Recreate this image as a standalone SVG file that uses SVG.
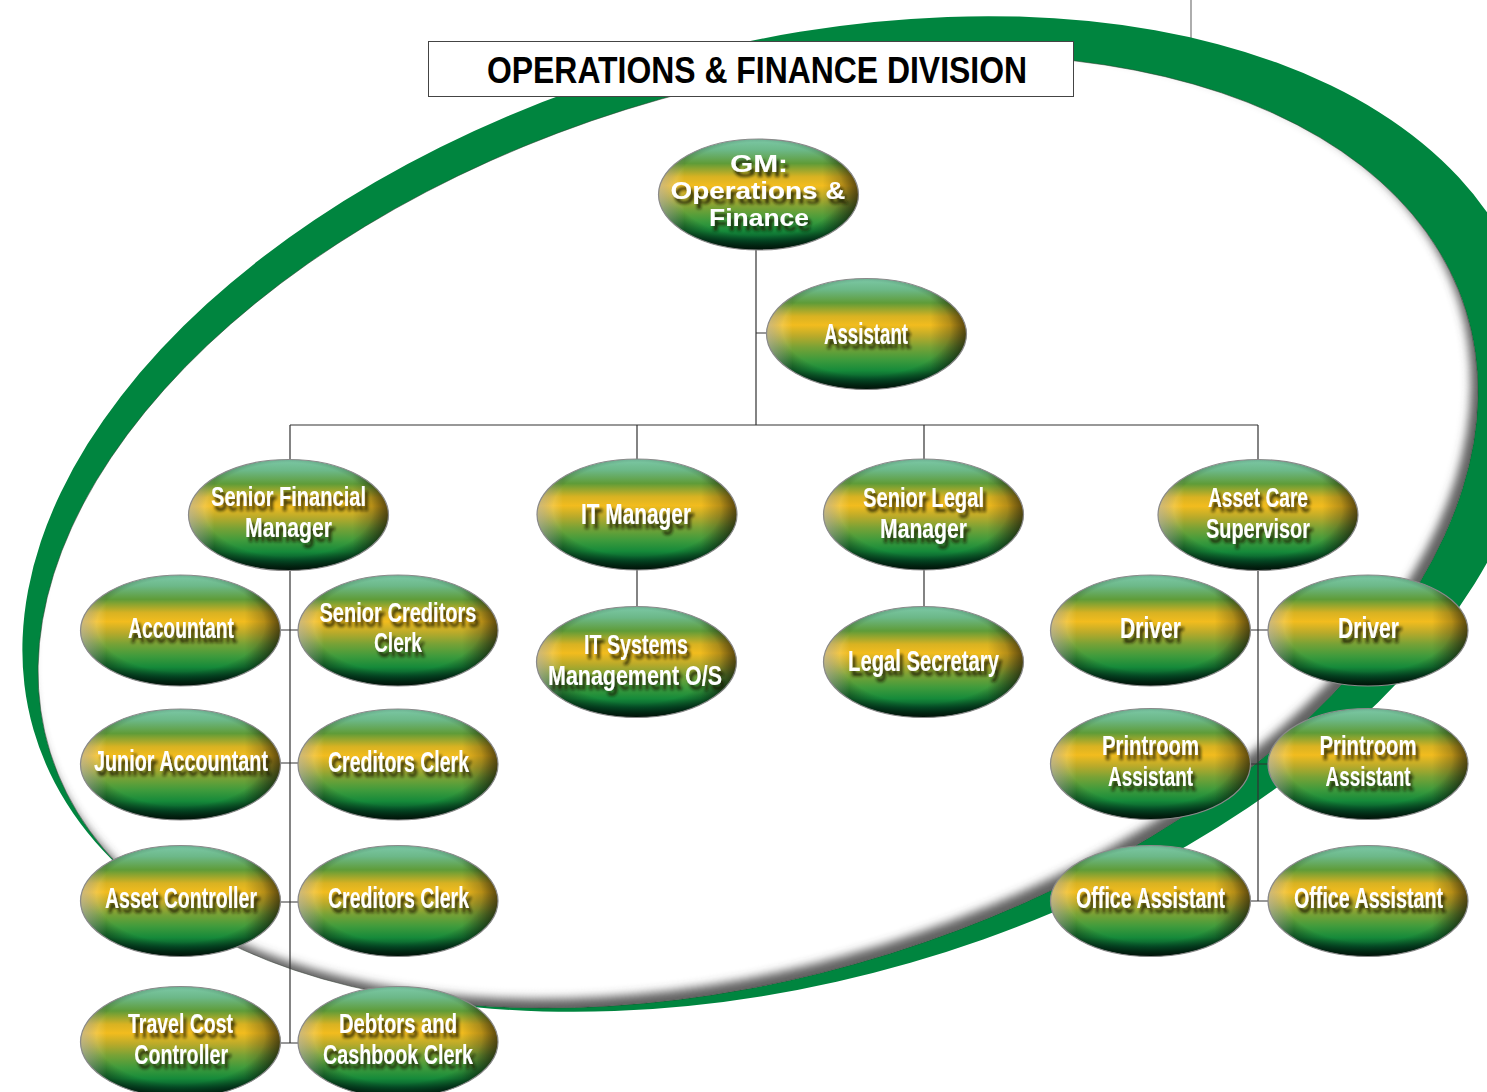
<svg xmlns="http://www.w3.org/2000/svg" xmlns:xlink="http://www.w3.org/1999/xlink" width="1487" height="1092" viewBox="0 0 1487 1092">
<style>
.t{font-family:"Liberation Sans",Arial,sans-serif;font-weight:bold;font-size:30px;fill:#fff;text-anchor:middle;filter:url(#tsn)}
.t2{font-size:27.5px}
.g{font-family:"Liberation Sans",Arial,sans-serif;font-weight:bold;font-size:24px;fill:#fff;text-anchor:middle;filter:url(#ts)}
.title{font-family:"Liberation Sans",Arial,sans-serif;font-weight:bold;font-size:37px;fill:#000;text-anchor:middle}
.cn{stroke:#333;stroke-width:1.2;fill:none}
</style>
<defs>
<linearGradient id="ng" x1="0" y1="0" x2="0" y2="1">
<stop offset="0" stop-color="#7cc8a6"/>
<stop offset="0.1" stop-color="#6cb888"/>
<stop offset="0.22" stop-color="#5f9c38"/>
<stop offset="0.34" stop-color="#d8b222"/>
<stop offset="0.42" stop-color="#f2bc1e"/>
<stop offset="0.52" stop-color="#b9aa2a"/>
<stop offset="0.62" stop-color="#78a236"/>
<stop offset="0.73" stop-color="#3f9b3c"/>
<stop offset="0.83" stop-color="#168a3a"/>
<stop offset="0.91" stop-color="#05552a"/>
<stop offset="1" stop-color="#002410"/>
</linearGradient>
<radialGradient id="nr" cx="0.5" cy="0.45" r="0.56">
<stop offset="0" stop-color="#000" stop-opacity="0"/>
<stop offset="0.75" stop-color="#000" stop-opacity="0"/>
<stop offset="1" stop-color="#000" stop-opacity="0.55"/>
</radialGradient>
<linearGradient id="nh" x1="0" y1="0" x2="1" y2="0">
<stop offset="0" stop-color="#fff" stop-opacity="0.45"/>
<stop offset="0.13" stop-color="#fff" stop-opacity="0"/>
<stop offset="0.82" stop-color="#000" stop-opacity="0"/>
<stop offset="1" stop-color="#000" stop-opacity="0.45"/>
</linearGradient>
<filter id="ts" x="-20%" y="-40%" width="140%" height="180%">
<feGaussianBlur in="SourceAlpha" stdDeviation="1.4"/>
<feOffset dx="3" dy="5" result="o"/>
<feFlood flood-color="#141800" flood-opacity="0.8"/>
<feComposite in2="o" operator="in"/>
<feMerge><feMergeNode/><feMergeNode in="SourceGraphic"/></feMerge>
</filter>
<filter id="tsn" x="-20%" y="-40%" width="140%" height="180%">
<feGaussianBlur in="SourceAlpha" stdDeviation="2.1 1.4"/>
<feOffset dx="5" dy="5" result="o"/>
<feFlood flood-color="#141800" flood-opacity="0.82"/>
<feComposite in2="o" operator="in"/>
<feMerge><feMergeNode/><feMergeNode in="SourceGraphic"/></feMerge>
</filter>
<filter id="rs" x="-10%" y="-10%" width="120%" height="120%">
<feGaussianBlur stdDeviation="5"/>
</filter>
<clipPath id="inClip">
<ellipse transform="translate(758,531.5) rotate(-17.35)" rx="741.5" ry="442.2"/>
</clipPath>
<g id="egg">
<ellipse rx="100" ry="55.5" fill="url(#ng)"/>
<ellipse rx="100" ry="55.5" fill="url(#nr)"/>
<ellipse rx="100" ry="55.5" fill="url(#nh)" stroke="#8a8a8a" stroke-width="1.2"/>
</g>
</defs>
<rect width="1487" height="1092" fill="#fff"/>
<line x1="1191" y1="0" x2="1191" y2="42" stroke="#777" stroke-width="1.2"/>
<g id="ring">
<ellipse transform="translate(781,514) rotate(-16.1)" rx="778" ry="467" fill="#00853f"/>
<ellipse transform="translate(758,531.5) rotate(-17.35)" rx="741.5" ry="442.2" fill="#fff" stroke="#2a3a2a" stroke-width="0.8" stroke-opacity="0.6"/>
<g clip-path="url(#inClip)">
<path transform="translate(751,522.5) rotate(-17.35)" d="M-950,-650H950V650H-950Z M741.5,0A741.5,442.2 0 1 0 -741.5,0A741.5,442.2 0 1 0 741.5,0Z" fill-rule="evenodd" fill="#444" fill-opacity="0.85" filter="url(#rs)"/>
</g>
</g>
<g id="connectors" class="cn">
<path d="M756,250V425M756,333H767M290,425H1258M290,425V460M637,425V459M924,425V459M1258,425V460"/>
<path d="M290,570V1043M280,630H299M280,763H299M280,902H299M280,1043H299"/>
<path d="M637,570V607M924,570V607"/>
<path d="M1258,570V901M1250,630H1269M1250,764H1269M1250,901H1269"/>
</g>
<g id="title">
<rect x="428.5" y="41.5" width="645" height="55" fill="#fff" stroke="#444" stroke-width="1"/>
<text class="title" x="757" y="83" textLength="540" lengthAdjust="spacingAndGlyphs">OPERATIONS &amp; FINANCE DIVISION</text>
</g>
<g id="n-gm"><use href="#egg" x="758.5" y="194.5"/>
<text class="g"><tspan x="759" y="172" textLength="58" lengthAdjust="spacingAndGlyphs">GM:</tspan><tspan x="758" y="199" textLength="175" lengthAdjust="spacingAndGlyphs">Operations &amp;</tspan><tspan x="759" y="226" textLength="100" lengthAdjust="spacingAndGlyphs">Finance</tspan></text></g>
<g id="n-assistant"><use href="#egg" x="866.5" y="334"/>
<text class="t" transform="translate(866,344) scale(0.66,1)" textLength="127.3" lengthAdjust="spacingAndGlyphs">Assistant</text></g>
<g id="n-sfm"><use href="#egg" x="288.5" y="515"/>
<text class="t t2" transform="translate(288.5,506) scale(0.66,1)"><tspan x="0" y="0" textLength="234.8" lengthAdjust="spacingAndGlyphs">Senior Financial</tspan><tspan x="0" y="31" textLength="131.8" lengthAdjust="spacingAndGlyphs">Manager</tspan></text></g>
<g id="n-itm"><use href="#egg" x="637" y="514.5"/>
<text class="t" transform="translate(636,524) scale(0.66,1)" textLength="166.7" lengthAdjust="spacingAndGlyphs">IT Manager</text></g>
<g id="n-slm"><use href="#egg" x="923.5" y="514.5"/>
<text class="t t2" transform="translate(923.5,507) scale(0.66,1)"><tspan x="0" y="0" textLength="183.3" lengthAdjust="spacingAndGlyphs">Senior Legal</tspan><tspan x="0" y="31" textLength="131.8" lengthAdjust="spacingAndGlyphs">Manager</tspan></text></g>
<g id="n-acs"><use href="#egg" x="1258" y="515"/>
<text class="t t2" transform="translate(1258,507) scale(0.66,1)"><tspan x="0" y="0" textLength="151.5" lengthAdjust="spacingAndGlyphs">Asset Care</tspan><tspan x="0" y="31" textLength="157.6" lengthAdjust="spacingAndGlyphs">Supervisor</tspan></text></g>
<g id="n-acct"><use href="#egg" x="180.5" y="630.5"/>
<text class="t" transform="translate(181,638) scale(0.66,1)" textLength="160.6" lengthAdjust="spacingAndGlyphs">Accountant</text></g>
<g id="n-scc"><use href="#egg" x="398" y="630.5"/>
<text class="t t2" transform="translate(398,621.5) scale(0.66,1)"><tspan x="0" y="0" textLength="237.9" lengthAdjust="spacingAndGlyphs">Senior Creditors</tspan><tspan x="0" y="31" textLength="72.7" lengthAdjust="spacingAndGlyphs">Clerk</tspan></text></g>
<g id="n-its"><use href="#egg" x="636.5" y="662"/>
<text class="t t2" transform="translate(636,654) scale(0.66,1)"><tspan x="0" y="0" textLength="157.6" lengthAdjust="spacingAndGlyphs">IT Systems</tspan><tspan x="-1.5" y="31" textLength="263.6" lengthAdjust="spacingAndGlyphs">Management O/S</tspan></text></g>
<g id="n-lsec"><use href="#egg" x="923.5" y="662"/>
<text class="t" transform="translate(923.5,671) scale(0.66,1)" textLength="228.8" lengthAdjust="spacingAndGlyphs">Legal Secretary</text></g>
<g id="n-drv1"><use href="#egg" x="1150.5" y="630.5"/>
<text class="t" transform="translate(1150.5,638) scale(0.66,1)" textLength="92.4" lengthAdjust="spacingAndGlyphs">Driver</text></g>
<g id="n-drv2"><use href="#egg" x="1368" y="630.5"/>
<text class="t" transform="translate(1368.5,638) scale(0.66,1)" textLength="92.4" lengthAdjust="spacingAndGlyphs">Driver</text></g>
<g id="n-jacc"><use href="#egg" x="180.5" y="764.5"/>
<text class="t" transform="translate(181,771) scale(0.66,1)" textLength="263.6" lengthAdjust="spacingAndGlyphs">Junior Accountant</text></g>
<g id="n-cc1"><use href="#egg" x="398" y="764.5"/>
<text class="t" transform="translate(398.5,772) scale(0.66,1)" textLength="213.6" lengthAdjust="spacingAndGlyphs">Creditors Clerk</text></g>
<g id="n-pra1"><use href="#egg" x="1150.5" y="764"/>
<text class="t t2" transform="translate(1150.5,755) scale(0.66,1)"><tspan x="0" y="0" textLength="147" lengthAdjust="spacingAndGlyphs">Printroom</tspan><tspan x="0" y="31" textLength="128.8" lengthAdjust="spacingAndGlyphs">Assistant</tspan></text></g>
<g id="n-pra2"><use href="#egg" x="1368" y="764"/>
<text class="t t2" transform="translate(1368,755) scale(0.66,1)"><tspan x="0" y="0" textLength="147" lengthAdjust="spacingAndGlyphs">Printroom</tspan><tspan x="0" y="31" textLength="128.8" lengthAdjust="spacingAndGlyphs">Assistant</tspan></text></g>
<g id="n-actl"><use href="#egg" x="180.5" y="901"/>
<text class="t" transform="translate(181,908) scale(0.66,1)" textLength="230.3" lengthAdjust="spacingAndGlyphs">Asset Controller</text></g>
<g id="n-cc2"><use href="#egg" x="398" y="901"/>
<text class="t" transform="translate(398.5,908) scale(0.66,1)" textLength="213.6" lengthAdjust="spacingAndGlyphs">Creditors Clerk</text></g>
<g id="n-oa1"><use href="#egg" x="1150.5" y="901"/>
<text class="t" transform="translate(1150.5,908) scale(0.66,1)" textLength="225.8" lengthAdjust="spacingAndGlyphs">Office Assistant</text></g>
<g id="n-oa2"><use href="#egg" x="1368" y="901"/>
<text class="t" transform="translate(1368.5,908) scale(0.66,1)" textLength="225.8" lengthAdjust="spacingAndGlyphs">Office Assistant</text></g>
<g id="n-tcc"><use href="#egg" x="180.5" y="1042"/>
<text class="t t2" transform="translate(180.5,1033) scale(0.66,1)"><tspan x="0" y="0" textLength="159.1" lengthAdjust="spacingAndGlyphs">Travel Cost</tspan><tspan x="1" y="31" textLength="142.4" lengthAdjust="spacingAndGlyphs">Controller</tspan></text></g>
<g id="n-dcc"><use href="#egg" x="398" y="1042"/>
<text class="t t2" transform="translate(398,1033) scale(0.66,1)"><tspan x="0" y="0" textLength="178.8" lengthAdjust="spacingAndGlyphs">Debtors and</tspan><tspan x="0" y="31" textLength="227.3" lengthAdjust="spacingAndGlyphs">Cashbook Clerk</tspan></text></g>
</svg>
